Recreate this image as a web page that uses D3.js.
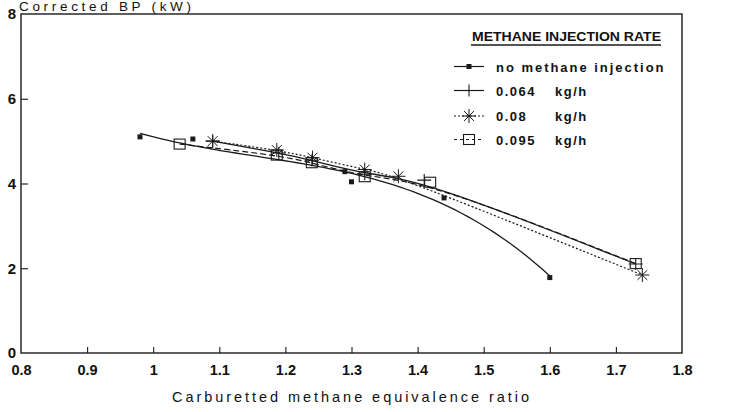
<!DOCTYPE html>
<html><head><meta charset="utf-8">
<script src="https://cdn.jsdelivr.net/npm/d3@7"></script>
<style>
body{margin:0;background:#fff;}
svg{display:block;}
text{font-family:"Liberation Sans",Arial,sans-serif;fill:#111;}
</style></head>
<body><svg id="c" width="731" height="412"></svg>
<script>
// ---- data ----
const xTicks = [0.8,0.9,1,1.1,1.2,1.3,1.4,1.5,1.6,1.7,1.8];
const yTicks = [0,2,4,6,8];
const seriesRates = ["no methane injection","0.064","0.08","0.095"];
const unitLabel = "kg/h";
const noInjX = [0.98,1.06,1.29,1.30,1.44,1.60];
const noInjY = [5.10,5.05,4.28,4.04,3.66,1.78];
const r064X = [1.09,1.19,1.24,1.32,1.41,1.73];
const r064Y = [5.00,4.72,4.55,4.22,4.08,2.10];
const r080X = [1.09,1.187,1.241,1.32,1.371,1.74];
const r080Y = [5.00,4.79,4.61,4.33,4.17,1.84];
const r095X = [1.04,1.187,1.24,1.32,1.419,1.73];
const r095Y = [4.93,4.67,4.49,4.16,4.03,2.11];
const legendTitle = "METHANE INJECTION RATE";
const xTitle = "Carburetted methane equivalence ratio";
const yTitle = "Corrected BP (kW)";

const svg = d3.select("#c");
const x = d3.scaleLinear().domain([0.8,1.8]).range([21,682]);
const y = d3.scaleLinear().domain([0,8]).range([353,14]);
const ink = "#1a1a1a";

// frame
svg.append("rect").attr("x",x(0.8)).attr("y",y(8)).attr("width",x(1.8)-x(0.8)).attr("height",y(0)-y(8))
  .attr("fill","none").attr("stroke",ink).attr("stroke-width",1.4);

// axes
const xa = svg.append("g").attr("transform",`translate(0,${y(0)})`)
  .call(d3.axisBottom(x).tickValues(xTicks).tickSize(-6).tickPadding(12).tickFormat(d3.format("")));
xa.select(".domain").remove();
xa.selectAll(".tick line").attr("stroke",ink).attr("stroke-width",1.1)
  .filter(d=>d===0.8||d===1.8).remove();
xa.selectAll(".tick text").attr("font-size",14.5).attr("font-weight","bold").attr("fill",ink);

const ya = svg.append("g").attr("transform",`translate(${x(0.8)},0)`)
  .call(d3.axisLeft(y).tickValues(yTicks).tickSize(-7).tickPadding(5));
ya.select(".domain").remove();
ya.selectAll(".tick line").attr("stroke",ink).attr("stroke-width",1.1)
  .filter(d=>d===0||d===8).remove();
ya.selectAll(".tick text").attr("font-size",15).attr("font-weight","bold").attr("fill",ink);

svg.append("text").attr("x",172).attr("y",402)
  .attr("font-size",14.5).attr("textLength",357).attr("lengthAdjust","spacing").text(xTitle);
svg.append("text").attr("x",19).attr("y",10.5).attr("font-size",13.5).attr("textLength",172).attr("lengthAdjust","spacing").text(yTitle);

// cubic least-squares fit for the no-injection trend line
function polyFit(xs,ys,deg){
  const n=deg+1, A=[...Array(n)].map(()=>Array(n+1).fill(0));
  const x0=d3.mean(xs);
  xs.forEach((xv,k)=>{const t=xv-x0;for(let i=0;i<n;i++){for(let j=0;j<n;j++)A[i][j]+=Math.pow(t,i+j);A[i][n]+=ys[k]*Math.pow(t,i);}});
  for(let i=0;i<n;i++){let p=i;for(let r=i+1;r<n;r++)if(Math.abs(A[r][i])>Math.abs(A[p][i]))p=r;[A[i],A[p]]=[A[p],A[i]];
    for(let r=0;r<n;r++){if(r===i)continue;const f=A[r][i]/A[i][i];for(let c=i;c<=n;c++)A[r][c]-=f*A[i][c];}}
  const co=A.map((r,i)=>r[n]/r[i]);
  return xv=>co.reduce((s,c,i)=>s+c*Math.pow(xv-x0,i),0);
}
const zip = (xs,ys)=>xs.map((v,i)=>[v,ys[i]]);
const noInj = zip(noInjX,noInjY), r064 = zip(r064X,r064Y), r080 = zip(r080X,r080Y), r095 = zip(r095X,r095Y);
const fNo = polyFit(noInjX,noInjY,3);
const xmin=d3.min(noInjX), xmax=d3.max(noInjX);
const fitPts = d3.range(0,61).map(i=>{const xv=xmin+(xmax-xmin)*i/60;return [xv,fNo(xv)];});

const lineL = d3.line().x(d=>x(d[0])).y(d=>y(d[1]));
const lineB = d3.line().x(d=>x(d[0])).y(d=>y(d[1])).curve(d3.curveBasis);
svg.append("path").attr("d",lineL(fitPts)).attr("fill","none").attr("stroke",ink).attr("stroke-width",1.3);
svg.append("path").attr("d",lineB(r064)).attr("fill","none").attr("stroke",ink).attr("stroke-width",1.3);
svg.append("path").attr("d",lineB(r080)).attr("fill","none").attr("stroke",ink).attr("stroke-width",1.2).attr("stroke-dasharray","2,2");
svg.append("path").attr("d",lineB(r095)).attr("fill","none").attr("stroke",ink).attr("stroke-width",1.2).attr("stroke-dasharray","6,3");

// markers
function dot(g,cx,cy){g.append("rect").attr("x",cx-2.5).attr("y",cy-2.5).attr("width",5).attr("height",5).attr("fill",ink);}
function plus(g,cx,cy){g.append("path").attr("d",`M${cx-7},${cy}H${cx+7}M${cx},${cy-6}V${cy+6}`).attr("stroke",ink).attr("stroke-width",1.1).attr("fill","none");}
function star(g,cx,cy){let d="";for(let i=0;i<4;i++){const a=i*Math.PI/4;const dx=7*Math.cos(a),dy=7*Math.sin(a);d+=`M${cx-dx},${cy-dy}L${cx+dx},${cy+dy}`;}
  g.append("path").attr("d",d).attr("stroke",ink).attr("stroke-width",1).attr("fill","none");}
function sq(g,cx,cy){g.append("rect").attr("x",cx-5.5).attr("y",cy-5).attr("width",11).attr("height",10).attr("fill","none").attr("stroke",ink).attr("stroke-width",1.1);}
const mg = svg.append("g");
noInj.forEach(d=>dot(mg,x(d[0]),y(d[1])));
r064.forEach(d=>plus(mg,x(d[0]),y(d[1])));
r080.forEach(d=>star(mg,x(d[0]),y(d[1])));
r095.forEach(d=>sq(mg,x(d[0]),y(d[1])));

// legend
const lg = svg.append("g");
lg.append("text").attr("x",472).attr("y",40.5).attr("font-size",12).attr("font-weight","bold")
  .attr("textLength",189).attr("lengthAdjust","spacingAndGlyphs").text(legendTitle);
lg.append("line").attr("x1",471).attr("x2",661).attr("y1",45).attr("y2",45).attr("stroke",ink).attr("stroke-width",1.4);
const ly = [66.5,90.5,116,139.5];
const marks = [dot,plus,star,sq];
const dashes = [null,null,"2,2","3,3"];
seriesRates.forEach((n,i)=>{
  lg.append("line").attr("x1",454).attr("x2",484).attr("y1",ly[i]).attr("y2",ly[i]).attr("stroke",ink).attr("stroke-width",1.2).attr("stroke-dasharray",dashes[i]);
  marks[i](lg,469,ly[i]);
  const t = lg.append("text").attr("x",496).attr("y",ly[i]+5).attr("font-size",13).attr("font-weight","bold")
    .attr("letter-spacing","1.5px").text(n);
  if(i===0) t.attr("textLength",169).attr("lengthAdjust","spacing");
  else lg.append("text").attr("x",555).attr("y",ly[i]+5).attr("font-size",13).attr("font-weight","bold")
    .attr("letter-spacing","1.5px").text(unitLabel);
});
</script></body></html>
